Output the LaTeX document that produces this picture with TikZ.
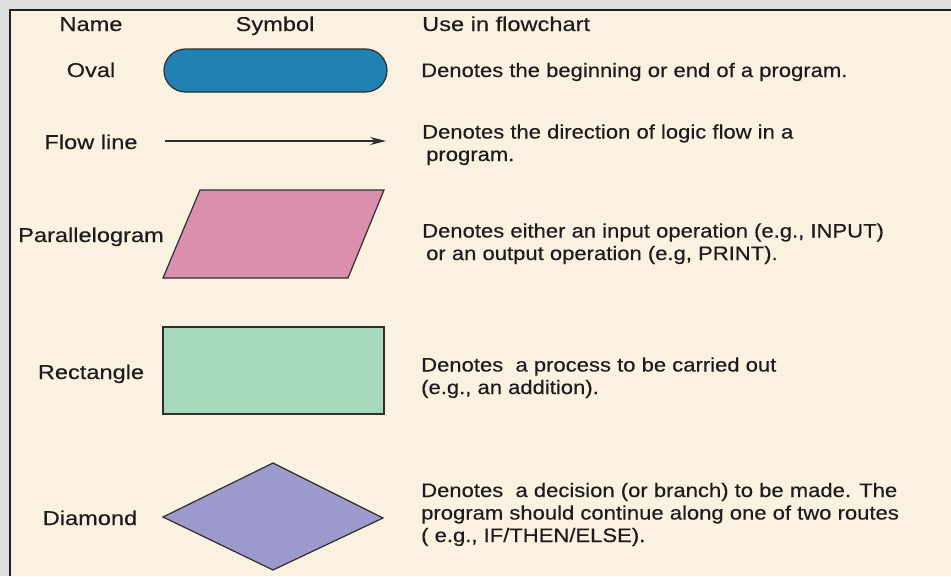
\documentclass[tikz,border=0pt]{standalone}
\usepackage{fontspec}
\setmainfont{Liberation Sans}
\newfontfamily\descfont{Liberation Sans}[FakeStretch=1.13, FakeBold=0.35]
\newfontfamily\namefont{Liberation Sans}[FakeStretch=1.18, FakeBold=0.35]
\usetikzlibrary{arrows.meta}

\definecolor{pagegray}{HTML}{DEDEDE}
\definecolor{paper}{HTML}{FBF1E0}
\definecolor{ink}{HTML}{1C1C1C}
\definecolor{edge}{HTML}{2E2E2E}
\definecolor{ovalblue}{HTML}{1F82B2}
\definecolor{parapink}{HTML}{DA90AC}
\definecolor{rectgreen}{HTML}{A5D9BC}
\definecolor{diamviolet}{HTML}{9D99CD}

\tikzset{
  namelabel/.style={anchor=base, inner sep=0pt, text=ink,
    font=\namefont\fontsize{20}{24}\selectfont},
  header/.style={namelabel},
  % multi-line descriptions are placed by the baseline of their last line
  desc/.style={anchor=base west, inner sep=0pt, align=left, text=ink,
    font=\descfont\fontsize{19.5}{22.5}\selectfont},
  symbolshape/.style={draw=edge, line width=1.2pt},
  flowarrow/.style={draw=edge, line width=1.3pt,
    -{Stealth[length=16pt,width=8pt]}}
}

\begin{document}
\begin{tikzpicture}[x=1pt, y=-1pt]
\useasboundingbox (0,0) rectangle (951,576);
% page and framed panel
\fill[pagegray] (0,0) rectangle (951,576);
\fill[paper] (10,10) rectangle (951,576);
\draw[ink, line width=2pt] (10,576) -- (10,10) -- (951,10);

% column headers
\node[header] (hname) at (91,31) {Name};
\node[header] (hsym) at (275,31) {Symbol};
\node[header, anchor=base west] (huse) at (422,31) {Use in flowchart};

% oval
\node[namelabel] (lov) at (91,77) {Oval};
\node[symbolshape, fill=ovalblue, rounded corners=21.5pt,
      minimum width=223pt, minimum height=43pt, inner sep=0pt] (oval) at (275.5,70.5) {};
\node[desc] (dov) at (421,77) {Denotes the beginning or end of a program.};

% flow line
\node[namelabel] (lfl) at (91,149) {Flow line};
\coordinate (flA) at (165,141);
\coordinate (flB) at (386,141);
\draw[flowarrow] (flA) -- (flB);
\node[desc] (dfl) at (422,161) {Denotes the direction of logic flow in a\\\hspace*{4pt}program.};

% parallelogram
\node[namelabel] (lpa) at (91,242) {Parallelogram};
\coordinate (paTL) at (200,190);
\coordinate (paTR) at (384,190);
\coordinate (paBR) at (348,278);
\coordinate (paBL) at (163,278);
\draw[symbolshape, fill=parapink] (paTL) -- (paTR) -- (paBR) -- (paBL) -- cycle;
\node[desc] (dpa) at (422,260) {Denotes either an input operation (e.g., INPUT)\\\hspace*{4pt}or an output operation (e.g, PRINT).};

% rectangle
\node[namelabel] (lre) at (91,379) {Rectangle};
\node[symbolshape, fill=rectgreen, minimum width=221pt, minimum height=87pt,
      inner sep=0pt] (rect) at (273.5,370.5) {};
\node[desc] (dre) at (421,394) {Denotes\ \ a process to be carried out\\(e.g., an addition).};

% diamond
\node[namelabel] (ldi) at (90,525) {Diamond};
\coordinate (diL) at (163,517);
\coordinate (diT) at (273,463);
\coordinate (diR) at (383,518);
\coordinate (diB) at (273,570);
\draw[symbolshape, fill=diamviolet] (diL) -- (diT) -- (diR) -- (diB) -- cycle;
\node[desc] (ddi) at (421,542) {Denotes\ \ a decision (or branch) to be made. The\\program should continue along one of two routes\\( e.g., IF/THEN/ELSE).};
\end{tikzpicture}
\end{document}
